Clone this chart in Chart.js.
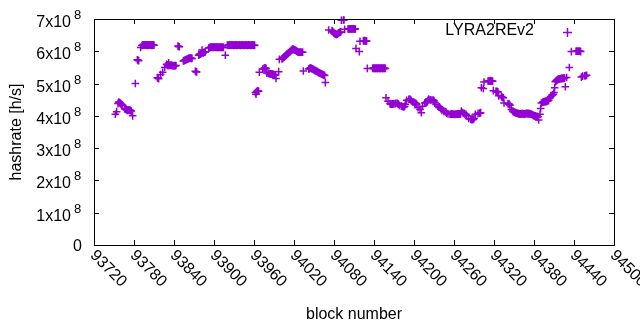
<!DOCTYPE html>
<html>
<head>
<meta charset="utf-8">
<script src="https://cdn.jsdelivr.net/npm/chart.js@4"></script>
<style>
  html, body { margin: 0; padding: 0; background: #fff; }
  #wrap { width: 640px; height: 330px; position: relative; }
</style>
</head>
<body>
<div id="wrap"><canvas id="hashChart"></canvas></div>
<script>
// ---------------- data ----------------
const seriesName = "LYRA2REv2";

const blocks = [
  93752, 93754, 93756, 93757, 93758, 93759, 93760, 93761, 93762, 93763,
  93766, 93767, 93768, 93769, 93770, 93771, 93772, 93773, 93774, 93775, 93776, 93778,
  93782, 93785, 93786, 93787, 93790,
  93792, 93793, 93794, 93795, 93796, 93797, 93798, 93799, 93800, 93801,
  93802, 93803, 93804, 93805, 93806, 93807, 93808, 93809, 93810,
  93815, 93816, 93817, 93820, 93823, 93826,
  93829, 93830, 93831, 93832, 93833, 93834, 93835, 93836, 93837, 93838, 93839, 93840, 93841, 93842, 93843,
  93846, 93847, 93848,
  93854, 93855, 93856, 93857, 93858, 93859, 93860, 93861, 93862, 93863, 93864, 93865, 93866, 93867,
  93872, 93873, 93874,
  93877, 93878, 93879, 93880, 93881, 93882, 93883, 93884, 93885, 93886, 93887,
  93892, 93893, 93894, 93895, 93896, 93897, 93898, 93899, 93900, 93901, 93902, 93903,
  93904, 93905, 93906, 93907, 93908, 93909, 93910, 93911, 93912, 93913, 93914,
  93917,
  93920, 93921, 93922, 93923, 93924, 93925, 93926, 93927, 93928, 93929, 93930,
  93931, 93932, 93933, 93934, 93935, 93936, 93937, 93938, 93939, 93940, 93941,
  93942, 93943, 93944, 93945, 93946, 93947, 93948, 93949, 93950, 93951, 93952,
  93953, 93954, 93955, 93956, 93957, 93958, 93959, 93960, 93961, 93962,
  93963, 93964, 93965, 93966, 93967, 93968,
  93973, 93975, 93976, 93977, 93978, 93979,
  93981, 93982, 93983, 93984, 93985, 93986, 93987, 93988, 93989, 93990, 93991, 93992, 93993,
  93997, 93998,
  94002, 94003, 94004, 94005, 94006, 94007, 94008, 94009, 94010, 94011,
  94012, 94013, 94014, 94015, 94016, 94017, 94018, 94019, 94020, 94021,
  94022, 94023, 94024, 94025, 94026, 94027, 94028, 94029, 94030, 94031,
  94032, 94033, 94034,
  94042,
  94043, 94044, 94045, 94046, 94047, 94048, 94049, 94050, 94051, 94052,
  94053, 94054, 94055, 94056, 94057, 94058, 94059, 94060, 94061, 94062,
  94063, 94064, 94065, 94066, 94067,
  94072,
  94077, 94078,
  94079, 94080, 94081, 94082, 94083, 94084, 94085, 94086, 94087, 94088, 94089, 94090, 94091,
  94094, 94095, 94096,
  94101, 94102, 94103, 94104, 94105, 94106, 94107, 94108, 94109, 94110, 94111, 94112, 94113,
  94118, 94119,
  94124, 94125, 94126, 94127, 94128, 94129, 94130,
  94138, 94139, 94140, 94141, 94142, 94143, 94144, 94145, 94146, 94147, 94148,
  94149, 94150, 94151, 94152, 94153, 94154, 94155, 94156, 94157, 94158,
  94161, 94164, 94165, 94166, 94167, 94168, 94169, 94170, 94172, 94173, 94175, 94176, 94177, 94178,
  94181, 94183, 94184, 94185, 94186, 94187, 94189, 94192, 94194, 94195, 94196, 94198,
  94200, 94201, 94202, 94203, 94204, 94206, 94209, 94211, 94213, 94216, 94218, 94219, 94220, 94221,
  94222, 94224, 94225, 94227, 94229, 94230, 94231, 94233, 94236, 94238, 94239, 94240, 94242, 94245,
  94247, 94248, 94249, 94251, 94254,
  94255, 94256, 94257, 94258, 94259, 94260, 94261, 94262, 94263, 94264,
  94265, 94266, 94267, 94268, 94269, 94270, 94271,
  94273, 94275, 94276, 94278, 94279, 94282, 94285, 94286, 94287, 94288, 94289, 94290, 94292,
  94296, 94298, 94299, 94300, 94301,
  94304, 94305,
  94311, 94312, 94313, 94314, 94315, 94316, 94317, 94318, 94319,
  94323, 94324, 94325, 94326, 94327, 94331, 94332, 94333, 94334, 94335,
  94341, 94342, 94343, 94344, 94346, 94348, 94349, 94350,
  94351, 94352, 94353, 94354, 94355, 94356, 94357, 94358, 94359, 94360,
  94361, 94362, 94363, 94364, 94365, 94366, 94367, 94368, 94369, 94370,
  94371, 94372, 94373, 94374, 94375, 94376, 94377, 94378, 94379, 94380,
  94381, 94382, 94383, 94384, 94385, 94386,
  94387, 94389, 94390, 94391,
  94393, 94394, 94395, 94396, 94397, 94398, 94399, 94400, 94401, 94402, 94403,
  94405, 94407, 94408, 94409, 94410, 94411, 94412,
  94413, 94414, 94415, 94416, 94417, 94418, 94419, 94420, 94421, 94422, 94423, 94424, 94425, 94426, 94427,
  94429, 94433, 94436,
  94443, 94444, 94445, 94446, 94447, 94448, 94449, 94450, 94451,
  94453, 94456, 94457, 94458, 94459, 94460
];

// hashrate in units of 1e8 h/s, same order as blocks
const hashrateE8 = [
  4.05, 4.13, 4.38, 4.43, 4.41, 4.40, 4.38, 4.36, 4.34, 4.33,
  4.22, 4.21, 4.20, 4.19, 4.17, 4.18, 4.18, 4.17, 4.18, 4.16, 4.15, 4.00,
  5.00, 5.74, 5.72, 5.71, 6.12,
  6.18, 6.19, 6.20, 6.19, 6.20, 6.19, 6.20, 6.19, 6.20, 6.18,
  6.19, 6.20, 6.19, 6.20, 6.19, 6.18, 6.20, 6.19, 6.19,
  5.18, 5.17, 5.15, 5.28, 5.35, 5.50,
  5.60, 5.58, 5.55, 5.64, 5.56, 5.57, 5.56, 5.57, 5.55, 5.56, 5.55, 5.55, 5.56, 5.55, 5.56,
  6.16, 6.15, 6.14,
  5.70, 5.71, 5.72, 5.73, 5.74, 5.75, 5.76, 5.77, 5.78, 5.78, 5.79, 5.79, 5.78, 5.78,
  5.38, 5.37, 5.36,
  5.88, 5.90, 5.91, 5.92, 5.94, 6.04, 5.96, 5.95, 5.97, 5.97, 5.98,
  6.10, 6.11, 6.12, 6.12, 6.13, 6.13, 6.12, 6.13, 6.12, 6.13, 6.13, 6.12,
  6.13, 6.12, 6.12, 6.13, 6.12, 6.12, 6.13, 6.12, 6.12, 6.13, 6.12,
  5.88,
  6.19, 6.18, 6.19, 6.20, 6.19, 6.18, 6.19, 6.20, 6.19, 6.19, 6.18,
  6.19, 6.20, 6.19, 6.19, 6.18, 6.19, 6.20, 6.19, 6.19, 6.18, 6.19,
  6.20, 6.19, 6.19, 6.18, 6.19, 6.20, 6.19, 6.19, 6.18, 6.19, 6.20,
  6.19, 6.19, 6.18, 6.19, 6.20, 6.19, 6.19, 6.18, 6.19,
  4.72, 4.67, 4.75, 4.77, 4.77, 4.76,
  5.35, 5.45, 5.47, 5.48, 5.48, 5.47,
  5.33, 5.32, 5.31, 5.31, 5.30, 5.30, 5.30, 5.30, 5.29, 5.28, 5.28, 5.27, 5.26,
  5.16, 5.37,
  5.75, 5.76, 5.78, 5.80, 5.82, 5.84, 5.86, 5.88, 5.90, 5.92,
  5.93, 5.95, 5.97, 5.99, 6.01, 6.03, 6.05, 6.06, 6.07, 6.05,
  6.04, 6.03, 6.02, 6.00, 5.99, 5.98, 5.98, 5.97, 5.97, 5.97,
  5.97, 5.97, 5.97,
  5.39,
  5.45, 5.46, 5.48, 5.48, 5.47, 5.46, 5.45, 5.44, 5.42, 5.41,
  5.40, 5.39, 5.38, 5.37, 5.35, 5.34, 5.33, 5.32, 5.31, 5.30,
  5.29, 5.28, 5.27, 5.26, 5.25,
  5.03,
  6.66, 6.64,
  6.62, 6.59, 6.56, 6.55, 6.53, 6.52, 6.52, 6.53, 6.55, 6.57, 6.58, 6.59, 6.60,
  6.96, 6.97, 6.97,
  6.68, 6.69, 6.69, 6.69, 6.70, 6.69, 6.69, 6.69, 6.70, 6.69, 6.69, 6.69, 6.69,
  6.09, 5.99,
  6.31, 6.32, 6.33, 6.33, 6.32, 6.32, 6.32,
  5.47, 5.47, 5.48, 5.47, 5.47, 5.47, 5.48, 5.47, 5.47, 5.47, 5.48,
  5.47, 5.47, 5.47, 5.48, 5.47, 5.47, 5.47, 5.48, 5.47, 5.47,
  4.56, 4.45, 4.38, 4.36, 4.36, 4.36, 4.37, 4.37, 4.38, 4.38, 4.39, 4.39, 4.37, 4.36,
  4.32, 4.30, 4.29, 4.28, 4.28, 4.29, 4.35, 4.48, 4.51, 4.52, 4.50, 4.46,
  4.43, 4.42, 4.40, 4.39, 4.38, 4.36, 4.25, 4.20, 4.10, 4.30, 4.40, 4.41, 4.42, 4.44,
  4.48, 4.52, 4.50, 4.49, 4.49, 4.49, 4.47, 4.42, 4.35, 4.30, 4.28, 4.26, 4.22, 4.17,
  4.14, 4.13, 4.12, 4.08, 4.06,
  4.05, 4.05, 4.05, 4.06, 4.05, 4.05, 4.05, 4.04, 4.05, 4.05,
  4.05, 4.06, 4.05, 4.05, 4.06, 4.05, 4.07,
  4.15, 4.10, 4.08, 4.06, 4.05, 4.00, 3.92, 3.90, 3.89, 3.89, 3.89, 3.89, 3.92,
  4.05, 4.07, 4.08, 4.09, 4.10,
  4.87, 4.85,
  5.05, 5.07, 5.08, 5.08, 5.08, 5.09, 5.08, 5.08, 5.07,
  4.78, 4.76, 4.75, 4.75, 4.74, 4.62, 4.60, 4.58, 4.57, 4.56,
  4.40, 4.38, 4.37, 4.36, 4.33, 4.20, 4.15, 4.13,
  4.12, 4.11, 4.10, 4.09, 4.08, 4.08, 4.07, 4.07, 4.06, 4.06,
  4.06, 4.06, 4.07, 4.07, 4.06, 4.06, 4.06, 4.06, 4.07, 4.08,
  4.07, 4.07, 4.07, 4.07, 4.06, 4.06, 4.05, 4.04, 4.03, 4.02,
  4.00, 4.00, 4.00, 3.99, 3.98, 3.98,
  3.97, 3.87, 4.05, 4.23,
  4.40, 4.42, 4.43, 4.44, 4.44, 4.44, 4.45, 4.45, 4.46, 4.47, 4.48,
  4.55, 4.60, 4.63, 4.65, 4.67, 4.72, 4.87,
  5.06, 5.08, 5.10, 5.11, 5.13, 5.14, 5.14, 5.15, 5.15, 5.16, 5.16, 5.16, 5.16, 5.17, 5.17,
  4.90, 5.19, 5.50,
  5.99, 6.00, 6.00, 6.00, 6.00, 6.00, 6.00, 6.00, 5.99,
  5.20, 5.23, 5.24, 5.24, 5.25, 5.26
];

const xTicks = [93720, 93780, 93840, 93900, 93960, 94020, 94080, 94140, 94200, 94260, 94320, 94380, 94440, 94500];
const yTicks = [0, 1e8, 2e8, 3e8, 4e8, 5e8, 6e8, 7e8];

const purple = "rgb(148, 0, 211)";
const font = "16px 'Liberation Sans', Arial, sans-serif";
const supFont = "13px 'Liberation Sans', Arial, sans-serif";

// ------------- gnuplot-ish frame, ticks, labels -------------
const framePlugin = {
  id: "frame",
  afterDraw(chart) {
    const { ctx, chartArea: a, scales } = chart;
    const xs = scales.x, ys = scales.y;
    ctx.save();
    ctx.strokeStyle = "#000";
    ctx.lineWidth = 1;
    ctx.strokeRect(Math.round(a.left) + 0.5, Math.round(a.top) + 0.5,
      Math.round(a.right - a.left), Math.round(a.bottom - a.top));

    ctx.fillStyle = "#000";
    ctx.font = font;

    // y ticks + labels
    yTicks.forEach((v) => {
      const y = Math.round(ys.getPixelForValue(v)) + 0.5;
      ctx.beginPath();
      ctx.moveTo(a.left, y); ctx.lineTo(a.left + 5, y);
      ctx.moveTo(a.right, y); ctx.lineTo(a.right - 5, y);
      ctx.stroke();
      ctx.textBaseline = "middle";
      if (v === 0) {
        ctx.font = font;
        ctx.textAlign = "right";
        ctx.fillText("0", a.left - 12, y + 1);
      } else {
        ctx.font = font;
        ctx.textAlign = "right";
        ctx.fillText((v / 1e8) + "x10", a.left - 23, y + 3);
        ctx.font = supFont;
        ctx.textAlign = "left";
        ctx.fillText("8", a.left - 20, y - 4);
      }
    });

    // x ticks + rotated labels
    ctx.font = font;
    xTicks.forEach((v) => {
      const x = Math.round(xs.getPixelForValue(v)) + 0.5;
      ctx.beginPath();
      ctx.moveTo(x, a.bottom); ctx.lineTo(x, a.bottom - 5);
      ctx.moveTo(x, a.top); ctx.lineTo(x, a.top + 5);
      ctx.stroke();
      ctx.save();
      ctx.translate(x - 2, a.bottom + 8);
      ctx.rotate(Math.PI / 4);
      ctx.textAlign = "left";
      ctx.textBaseline = "middle";
      ctx.fillText(String(v), 0, 0);
      ctx.restore();
    });

    // axis titles
    ctx.textAlign = "center";
    ctx.textBaseline = "middle";
    ctx.fillText("block number", (a.left + a.right) / 2, 315);
    ctx.save();
    ctx.translate(17, (a.top + a.bottom) / 2);
    ctx.rotate(-Math.PI / 2);
    ctx.fillText("hashrate [h/s]", 0, 0);
    ctx.restore();

    // key
    ctx.textAlign = "right";
    ctx.fillText(seriesName, 534, 31);
    ctx.strokeStyle = purple;
    ctx.lineWidth = 1.5;
    ctx.beginPath();
    ctx.moveTo(563, 32.5); ctx.lineTo(572, 32.5);
    ctx.moveTo(567.5, 28); ctx.lineTo(567.5, 37);
    ctx.stroke();
    ctx.restore();
  },
};

const points = blocks.map((b, i) => ({ x: b, y: hashrateE8[i] * 1e8 }));

const ctx = document.getElementById("hashChart").getContext("2d");
const hashChart = new Chart(ctx, {
  type: "scatter",
  data: {
    datasets: [
      {
        label: seriesName,
        data: points,
        pointStyle: "cross",
        pointRadius: 3.8,
        borderColor: purple,
        backgroundColor: purple,
        borderWidth: 1.5,
        clip: false,
      },
    ],
  },
  options: {
    responsive: true,
    maintainAspectRatio: false,
    animation: false,
    layout: { padding: { left: 94, top: 19, right: 26, bottom: 85 } },
    plugins: { legend: { display: false }, tooltip: { enabled: false } },
    scales: {
      x: {
        type: "linear",
        min: 93720,
        max: 94500,
        ticks: { display: false },
        grid: { display: false },
        border: { display: false },
        afterFit: (s) => { s.height = 0; },
      },
      y: {
        min: 0,
        max: 7e8,
        ticks: { display: false },
        grid: { display: false },
        border: { display: false },
        afterFit: (s) => { s.width = 0; },
      },
    },
  },
  plugins: [framePlugin],
});
</script>
</body>
</html>
